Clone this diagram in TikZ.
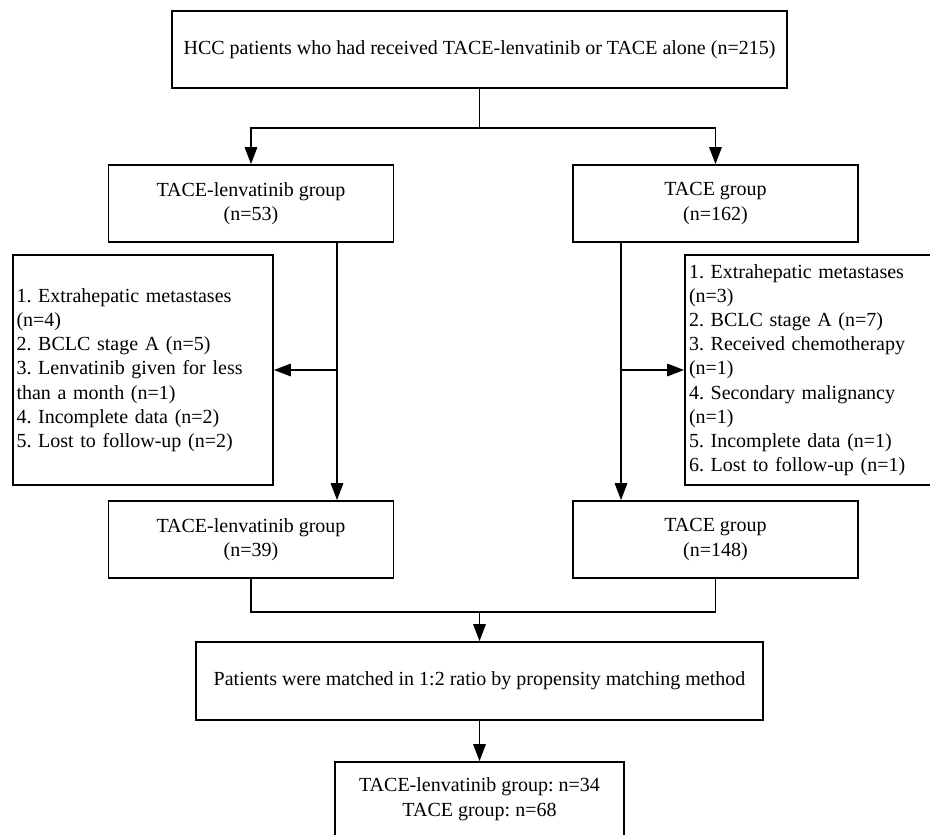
\documentclass[tikz,border=0pt]{standalone}
\usepackage{fontspec}
\setmainfont{Liberation Serif}
\usetikzlibrary{arrows.meta}
\begin{document}
\frenchspacing
\begin{tikzpicture}[x=1pt,y=-1pt,
  box/.style={draw, line width=1.8pt, inner sep=0pt, align=center,
    font=\fontsize{20}{24.2}\selectfont},
  listbox/.style={draw, line width=1.8pt, inner ysep=0pt, align=left,
    font=\fontsize{20}{24.2}\selectfont},
  conn/.style={line width=1.7pt},
  arr/.style={line width=1.7pt, -{Triangle[length=17pt,width=12.5pt]}}]
\useasboundingbox (0,0) rectangle (930,835);
\clip (0,0) rectangle (930,835);
\fill[white] (0,0) rectangle (930,835);

\node[box, minimum width=615pt, minimum height=77pt] (top) at (479.5,49.5)
  {HCC patients who had received TACE-lenvatinib or TACE alone (n=215)};

\node[box, minimum width=285pt, minimum height=77pt] (grpL) at (251,203.5)
  {TACE-lenvatinib group\\(n=53)};
\node[box, minimum width=285pt, minimum height=77pt] (grpR) at (715.5,203.5)
  {TACE group\\(n=162)};

\node[listbox, text width=253pt, inner xsep=3.5pt, minimum height=230pt] (exclL) at (143,370)
  {1. Extrahepatic metastases\\(n=4)\\2. BCLC stage A (n=5)\\3. Lenvatinib given for less\\than a month (n=1)\\4. Incomplete data (n=2)\\5. Lost to follow-up (n=2)};
\node[listbox, text width=267pt, inner xsep=4pt, minimum height=230pt] (exclR) at (822.5,370)
  {1. Extrahepatic metastases\\(n=3)\\2. BCLC stage A (n=7)\\3. Received chemotherapy\\(n=1)\\4. Secondary malignancy\\(n=1)\\5. Incomplete data (n=1)\\6. Lost to follow-up (n=1)};

\node[box, minimum width=285pt, minimum height=77pt] (grp2L) at (251,539.5)
  {TACE-lenvatinib group\\(n=39)};
\node[box, minimum width=285pt, minimum height=77pt] (grp2R) at (715.5,539.5)
  {TACE group\\(n=148)};

\node[box, minimum width=567.5pt, minimum height=78pt] (match) at (479.5,681)
  {Patients were matched in 1:2 ratio by propensity matching method};

\node[box, minimum width=289pt, minimum height=74.5pt] (final) at (479.5,799.25)
  {TACE-lenvatinib group: n=34\\TACE group: n=68};

% connectors
\coordinate (split) at (479.5,128);
\draw[conn] (top.south) -- (split);
\draw[arr] (split) -| (grpL.north);
\draw[arr] (split) -| (grpR.north);

\coordinate (vl) at (337,0);
\coordinate (vr) at (621,0);
\draw[arr] (grpL.south -| vl) -- (grp2L.north -| vl);
\draw[arr] (grpR.south -| vr) -- (grp2R.north -| vr);
\draw[arr] (exclL.east -| vl) -- (exclL.east);
\draw[arr] (exclR.west -| vr) -- (exclR.west);

\coordinate (join) at (479.5,612);
\draw[conn] (grp2L.south) |- (join);
\draw[conn] (grp2R.south) |- (join);
\draw[arr] (join) -- (match.north);
\draw[arr] (match.south) -- (final.north);
\end{tikzpicture}
\end{document}
